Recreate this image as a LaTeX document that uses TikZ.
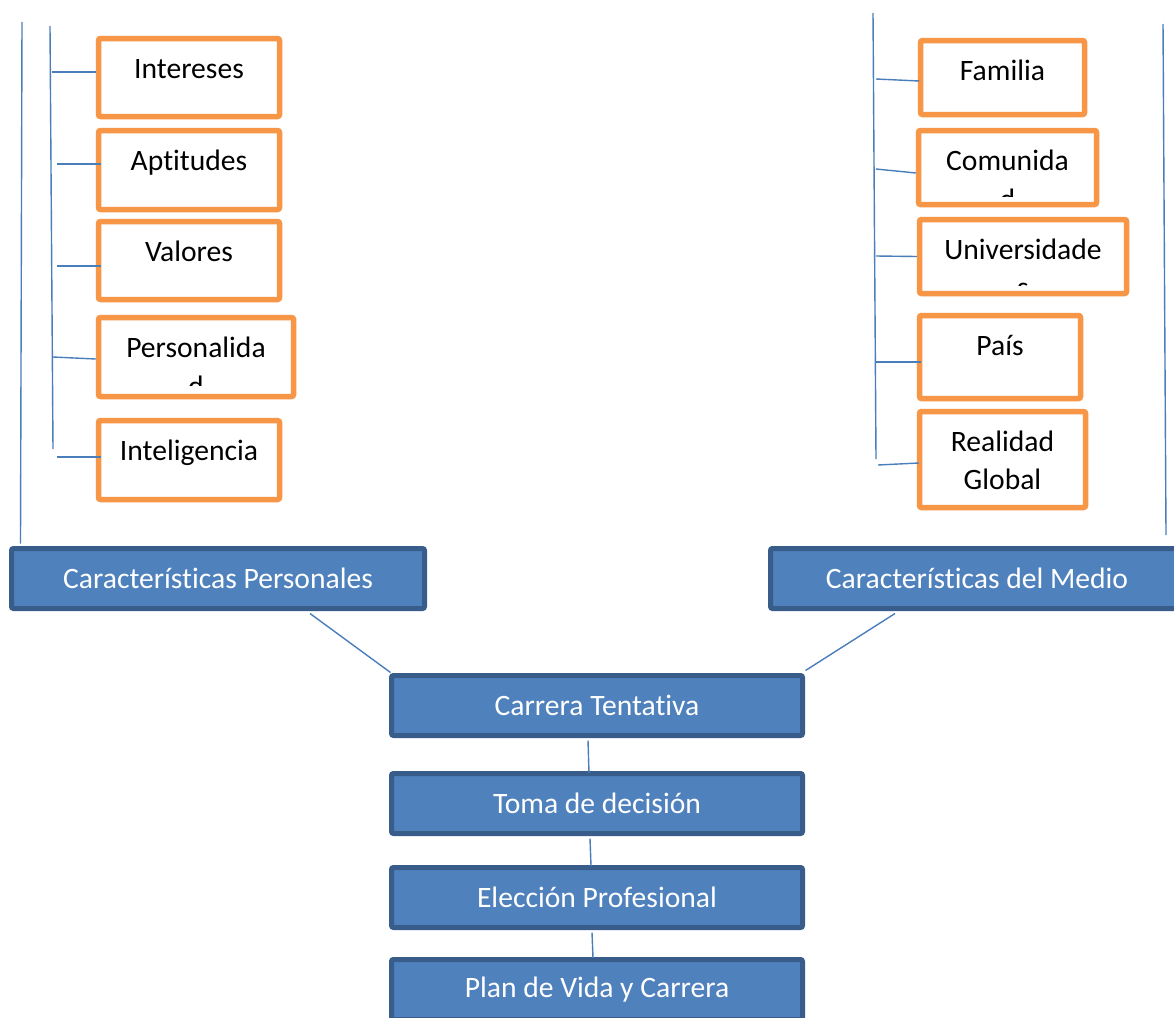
\documentclass[tikz,border=0pt]{standalone}
\usepackage{fontspec}
\setmainfont{Carlito}[Ligatures=NoCommon]
\definecolor{orng}{HTML}{F79646}
\definecolor{bfill}{HTML}{4F81BD}
\definecolor{bedge}{HTML}{385D8A}
\definecolor{wire}{HTML}{4A7EBB}
\begin{document}
\begin{tikzpicture}[x=1pt,y=-1pt,
  obox/.style={draw=orng, line width=5.5pt, fill=white, rounded corners=2pt, inner sep=0pt},
  otext/.style={inner sep=0pt, anchor=base, font=\fontsize{29.6}{38}\selectfont, text=black},
  bbox/.style={draw=bedge, line width=5pt, fill=bfill, rounded corners=2pt, inner sep=0pt,
    minimum height=60pt, text=white, font=\fontsize{29.6}{38}\selectfont},
  wireline/.style={draw=wire, line width=1.4pt}
]
\useasboundingbox (0,0) rectangle (1174,1017);
\fill[white] (0,0) rectangle (1174,1017);

% ---------- left orange boxes ----------
\node[obox, minimum width=181pt, minimum height=78pt] (int) at (189,77.5) {};
\node[obox, minimum width=181pt, minimum height=79pt] (apt) at (189,170) {};
\node[obox, minimum width=181pt, minimum height=78pt] (val) at (189,260.5) {};
\node[obox, minimum width=195pt, minimum height=79pt] (per) at (196,357) {};
\node[obox, minimum width=181pt, minimum height=79pt] (intel) at (189,460) {};

\node[otext] (intT) at (189,78) {Intereses};
\node[otext] (aptT) at (189,170) {Aptitudes};
\node[otext] (valT) at (189,261) {Valores};
\node[otext] (perT) at (196,357) {Personalida};
\begin{scope}
  \clip (101,320) rectangle (291,385);
  \node[otext] (perT2) at (196,396) {d};
\end{scope}
\node[otext] (intelT) at (189,460) {Inteligencia};

% ---------- right orange boxes ----------
\node[obox, minimum width=164pt, minimum height=74pt] (fam) at (1002.5,77.5) {};
\node[obox, minimum width=178pt, minimum height=74pt] (com) at (1007.5,167.5) {};
\node[obox, minimum width=207pt, minimum height=74pt] (uni) at (1023,256.5) {};
\node[obox, minimum width=161pt, minimum height=83pt] (pais) at (1000,357) {};
\node[obox, minimum width=166pt, minimum height=96pt] (rg) at (1002.5,459.5) {};

\node[otext] (famT) at (1002.5,80) {Familia};
\node[otext] (comT) at (1007.5,170) {Comunida};
\begin{scope}
  \clip (921,133) rectangle (1094,196);
  \node[otext] (comT2) at (1007.5,209) {d};
\end{scope}
\node[otext] (uniT) at (1023,259) {Universidade};
\begin{scope}
  \clip (922,222) rectangle (1124,285);
  \node[otext] (uniT2) at (1023,297) {s};
\end{scope}
\node[otext] (paisT) at (1000,355) {País};
\node[otext] (rgT1) at (1002.5,451) {Realidad};
\node[otext] (rgT2) at (1002.5,489) {Global};

% ---------- blue boxes ----------
\node[bbox, minimum width=413pt] (cp) at (218,578.5) {Características Personales};
\node[bbox, minimum width=413pt] (cm) at (977,578.5) {Características del Medio};
\node[bbox, minimum width=411pt] (car) at (597,705.5) {Carrera Tentativa};
\node[bbox, minimum width=411pt] (toma) at (597,803.5) {Toma de decisión};
\node[bbox, minimum width=411pt] (elec) at (597,897.5) {Elección Profesional};
\node[bbox, minimum width=411pt] (plan) at (597,989.5) {Plan de Vida y Carrera};

% ---------- vertical bracket lines ----------
\coordinate (lo) at (22,22);
\coordinate (li1) at (50,26);
\coordinate (li2) at (53,449);
\coordinate (ri1) at (873,13);
\coordinate (ri2) at (876,459);
\coordinate (ro1) at (1163,24);
\coordinate (ro2) at (1166,535);

\draw[wireline] (lo) -- ([xshift=11.5pt,yshift=2.5pt]cp.north west);
\draw[wireline] (li1) -- (li2);
\draw[wireline] (ri1) -- (ri2);
\draw[wireline] (ro1) -- (ro2);

% left branch connectors
\coordinate (a1) at (52,72);
\coordinate (a2) at (57,164);
\coordinate (a3) at (57,266);
\coordinate (a4) at (53,357);
\coordinate (a5) at (57,457);
\draw[wireline] (a1) -- ([yshift=5.5pt]int.west);
\draw[wireline] (a2) -- ([xshift=5pt,yshift=6pt]apt.west);
\draw[wireline] (a3) -- ([xshift=5pt,yshift=-5.5pt]val.west);
\draw[wireline] (a4) -- ([yshift=-2pt]per.west);
\draw[wireline] (a5) -- ([xshift=5pt,yshift=3pt]intel.west);

% right branch connectors
\coordinate (b1) at (876,79);
\coordinate (b2) at (876,169);
\coordinate (b3) at (876,256);
\coordinate (b4) at (876,362);
\coordinate (b5) at (878,465);
\draw[wireline] (b1) -- ([xshift=1.5pt,yshift=-3.5pt]fam.west);
\draw[wireline] (b2) -- ([yshift=-5.5pt]com.west);
\draw[wireline] (b3) -- (uni.west);
\draw[wireline] (b4) -- ([xshift=4pt,yshift=-5pt]pais.west);
\draw[wireline] (b5) -- ([xshift=2pt,yshift=-3.5pt]rg.west);

% lower connectors
\draw[wireline] ([xshift=92pt,yshift=-2.5pt]cp.south) -- ([xshift=1.5pt,yshift=0.5pt]car.north west);
\draw[wireline] ([xshift=-82pt,yshift=-2.5pt]cm.south) -- ([xshift=0.5pt,yshift=2.5pt]car.north east);
\draw[wireline] ([xshift=-9pt,yshift=-2.5pt]car.south) -- ([xshift=-8pt,yshift=-2pt]toma.north);
\draw[wireline] ([xshift=-7pt,yshift=-2.5pt]toma.south) -- ([xshift=-6pt,yshift=-1pt]elec.north);
\draw[wireline] ([xshift=-5pt,yshift=-2.5pt]elec.south) -- ([xshift=-4pt,yshift=-1pt]plan.north);
\end{tikzpicture}
\end{document}
